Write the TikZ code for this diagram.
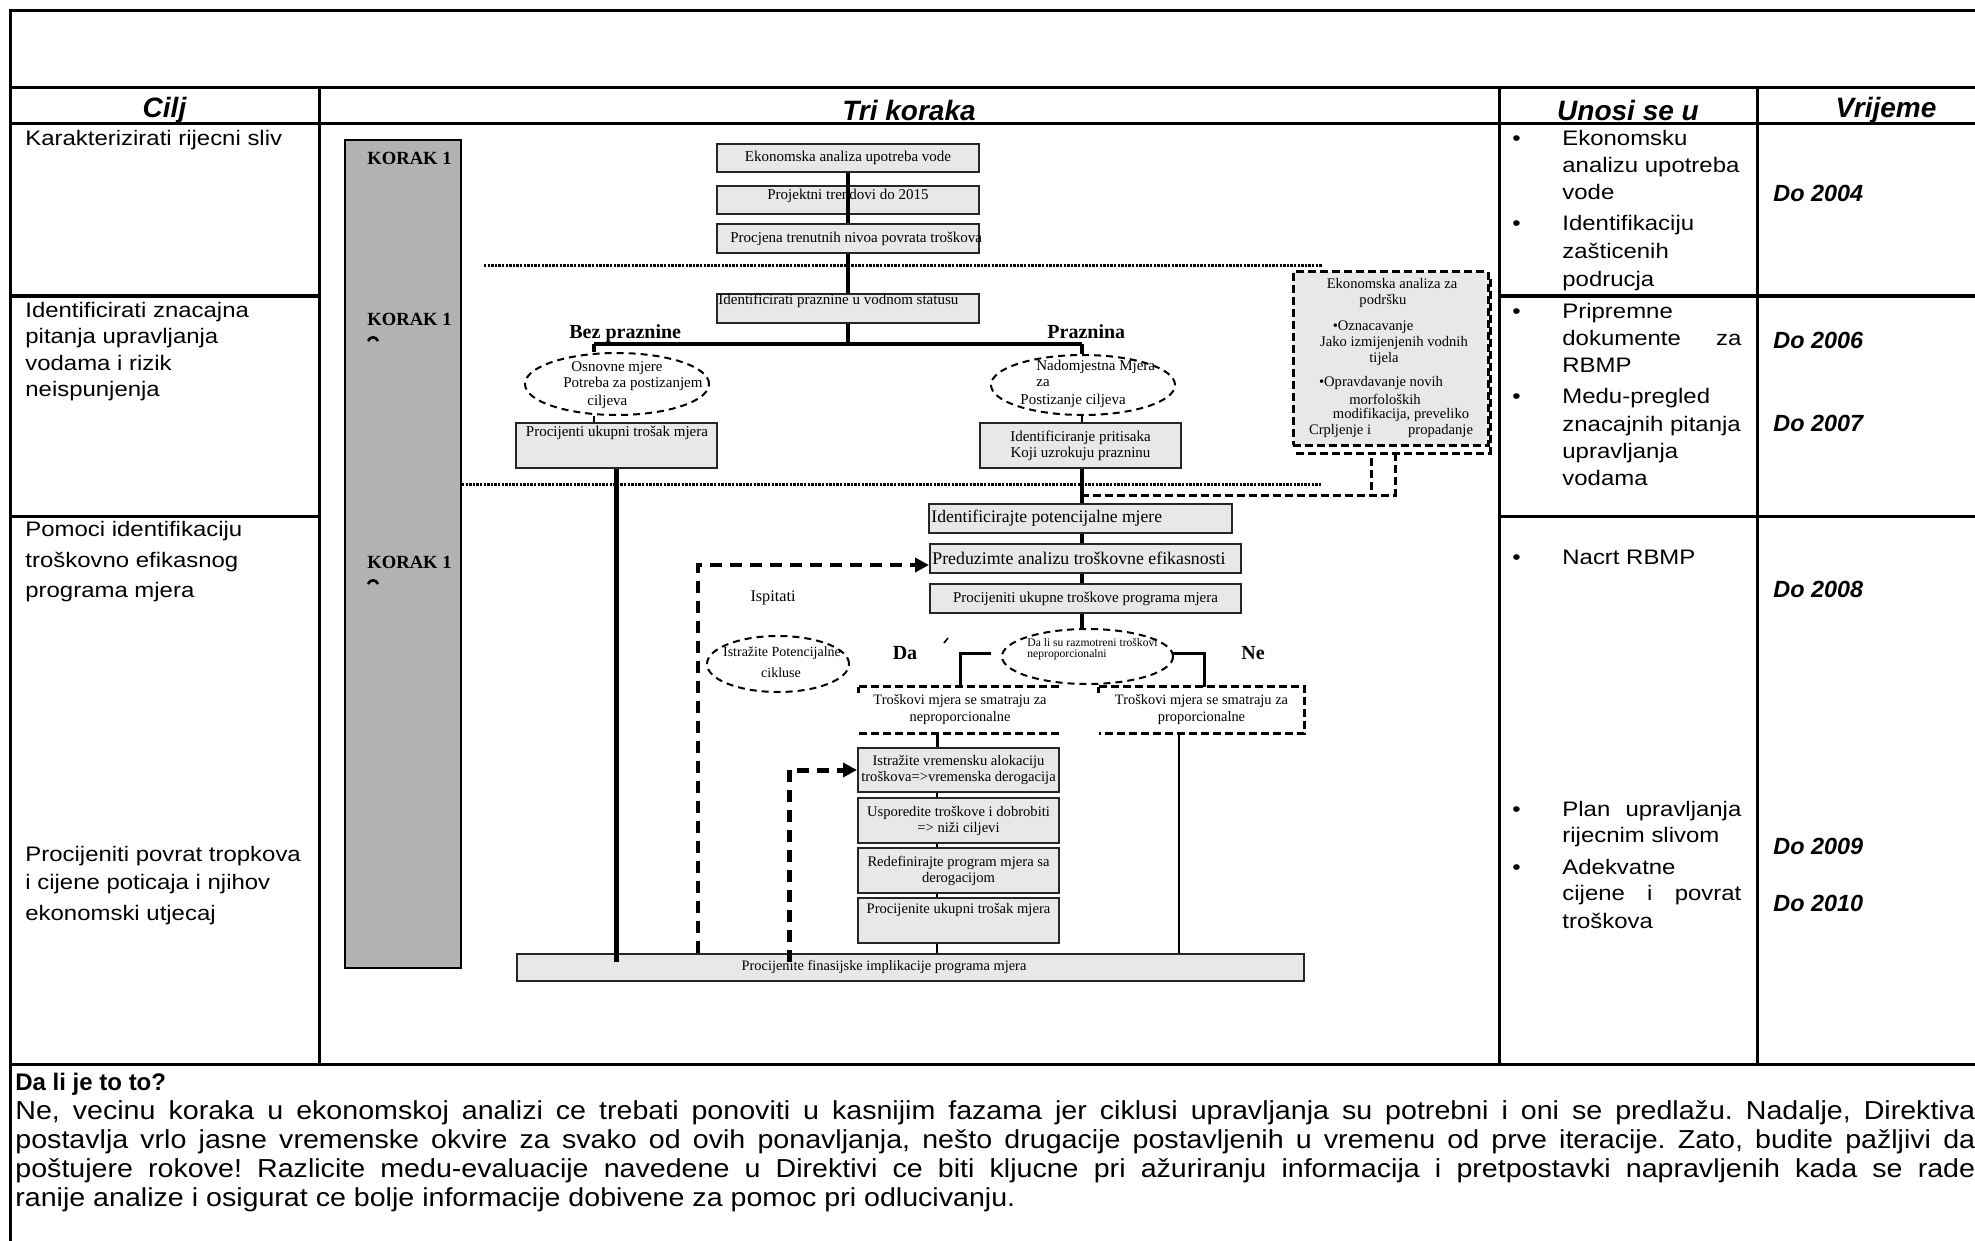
\documentclass[tikz,border=0pt]{standalone}
\usepackage{fontspec}
\setmainfont{Liberation Serif}
\newfontfamily\arialt[FakeStretch=1.14]{Liberation Sans}
\newfontfamily\arialh{Liberation Sans}
\newfontfamily\arialp[FakeStretch=1.1]{Liberation Sans}
\usetikzlibrary{shapes.geometric,arrows.meta}
\definecolor{boxfill}{gray}{0.91}
\definecolor{barfill}{gray}{0.70}
\frenchspacing
\tikzset{
 rule/.style={line width=1.5pt},
 tb/.style={anchor=west, inner sep=0pt, font=\fontsize{10.5}{12}\arialt, text height=7.6pt, text depth=2.2pt},
 tbh/.style={inner sep=0pt, font=\fontsize{14}{16}\arialh\bfseries\itshape},
 tbd/.style={anchor=west, inner sep=0pt, font=\fontsize{11.7}{13}\arialh\bfseries\itshape},
 para/.style={anchor=west, inner sep=0pt, font=\fontsize{13}{15}\arialp\frenchspacing, text height=9.4pt, text depth=2.7pt},
 bx/.style={draw=black!85, line width=1pt, fill=boxfill, inner sep=0pt, font=\fontsize{7.5}{8}\selectfont, align=center},
 st/.style={inner sep=0pt, font=\fontsize{7.5}{8}\selectfont},
 korak/.style={anchor=west, inner sep=0pt, font=\fontsize{9.3}{10}\selectfont\bfseries},
 lbl/.style={inner sep=0pt, font=\fontsize{10}{11}\selectfont\bfseries},
 oval/.style={ellipse, draw, line width=1pt, dash pattern=on 3.5pt off 2.5pt, inner sep=0pt},
 conn/.style={line width=2pt},
 thinconn/.style={line width=1pt},
 dotl/.style={line width=1.5pt, dash pattern=on 1.2pt off 0.6pt},
 dshbox/.style={line width=1.5pt, dash pattern=on 4pt off 2pt},
 fback/.style={line width=2pt, dash pattern=on 6pt off 4pt, -{Triangle[length=7pt,width=7pt]}},
}
\begin{document}
\begin{tikzpicture}[x=0.5pt,y=-0.5pt]
\path[use as bounding box] (0,0) rectangle (1975,1241);
\clip (0,0) rectangle (1975,1241);
\fill[white] (0,0) rectangle (1975,1241);

% ---------- table ----------
\draw[rule] (10,11) rectangle (2014,1300);
\draw[rule] (10,88) -- (2014,88);
\draw[rule] (10,124) -- (2014,124);
\draw[rule] (319,88) -- (319,1064);
\draw[rule] (1499,88) -- (1499,1064);
\draw[rule] (1757,88) -- (1757,1064);
\draw[rule] (10,296) -- (319,296);
\draw[rule] (10,516) -- (319,516);
\draw[rule] (1499,296) -- (2014,296);
\draw[rule] (1499,516) -- (2014,516);
\draw[rule] (10,1064) -- (2014,1064);

\node[tbh] (hcilj) at (164.5,110) {Cilj};
\node[tbh] (htri) at (909,110) {Tri koraka};
\node[tbh] (hunos) at (1628,110) {Unosi se u};
\node[tbh] (hvrij) at (1886,110) {Vrijeme};

\node[tb] (c11) at (25,140) {Karakterizirati rijecni sliv};
\node[tb] (c21) at (25,312) {Identificirati znacajna};
\node[tb] (c22) at (25,338) {pitanja upravljanja};
\node[tb] (c23) at (25,365) {vodama i rizik};
\node[tb] (c24) at (25,391) {neispunjenja};
\node[tb] (c31) at (25,531) {Pomoci identifikaciju};
\node[tb] (c32) at (25,562) {troškovno efikasnog};
\node[tb] (c33) at (25,592) {programa mjera};
\node[tb] (c41) at (25,856) {Procijeniti povrat tropkova};
\node[tb] (c42) at (25,884) {i cijene poticaja i njihov};
\node[tb] (c43) at (25,915) {ekonomski utjecaj};

% Unosi se u
\foreach \yy/\nm in {140/ua,225/ub,313/uc,398/ud,559/ue,811/uf,869/ug}
  \node[tb] (bul\nm) at (1512,\yy) {•};
\node[tb] (u1) at (1562,140) {Ekonomsku};
\node[tb] (u2) at (1562,167) {analizu upotreba};
\node[tb] (u3) at (1562,194) {vode};
\node[tb] (u4) at (1562,225) {Identifikaciju};
\node[tb] (u5) at (1562,253) {zašticenih};
\node[tb] (u6) at (1562,281) {podrucja};
\node[tb] (u7) at (1562,313) {Pripremne};
\node[tb] (u8) at (1562,340) {\makebox[89.5pt][s]{dokumente\hfill za}};
\node[tb] (u9) at (1562,367) {RBMP};
\node[tb] (u10) at (1562,398) {Medu-pregled};
\node[tb] (u11) at (1562,426) {znacajnih pitanja};
\node[tb] (u12) at (1562,453) {upravljanja};
\node[tb] (u13) at (1562,480) {vodama};
\node[tb] (u14) at (1562,559) {Nacrt RBMP};
\node[tb] (u15) at (1562,811) {\makebox[89.5pt][s]{Plan\hfill upravljanja}};
\node[tb] (u16) at (1562,837) {rijecnim slivom};
\node[tb] (u17) at (1562,869) {Adekvatne};
\node[tb] (u18) at (1562,895) {\makebox[89.5pt][s]{cijene\hfill i\hfill povrat}};
\node[tb] (u19) at (1562,923) {troškova};

% Vrijeme
\node[tbd] (v1) at (1773,193) {Do 2004};
\node[tbd] (v2) at (1773,340) {Do 2006};
\node[tbd] (v3) at (1773,423) {Do 2007};
\node[tbd] (v4) at (1773,589) {Do 2008};
\node[tbd] (v5) at (1773,846) {Do 2009};
\node[tbd] (v6) at (1773,903) {Do 2010};

% bottom paragraph
\node[para, font=\fontsize{12}{14}\arialh\bfseries] (q) at (15,1084) {Da li je to to?};
\node[para] (p1l) at (15,1113) {\makebox[980pt][s]{Ne, vecinu koraka u ekonomskoj analizi ce trebati ponoviti u kasnijim fazama jer ciklusi upravljanja su potrebni i oni se predlažu. Nadalje, Direktiva}};
\node[para] (p2l) at (15,1142) {\makebox[980pt][s]{postavlja vrlo jasne vremenske okvire za svako od ovih ponavljanja, nešto drugacije postavljenih u vremenu od prve iteracije. Zato, budite pažljivi da}};
\node[para] (p3l) at (15,1171) {\makebox[980pt][s]{poštujere rokove! Razlicite medu-evaluacije navedene u Direktivi ce biti kljucne pri ažuriranju informacija i pretpostavki napravljenih kada se rade}};
\node[para] (p4l) at (15,1200) {ranije analize i osigurat ce bolje informacije dobivene za pomoc pri odlucivanju.};

% ---------- flow ----------
\node[draw=black, line width=0.8pt, fill=barfill, minimum width=58pt, minimum height=414pt, inner sep=0pt] (bar) at (403,554) {};
\node[korak] (k1) at (367,158) {KORAK 1};
\node[korak] (k2) at (367,319) {KORAK 1};
\node[korak] (k3) at (367,562) {KORAK 1};
\draw[line width=1.3pt] (368,341) .. controls (370,336) and (376,336) .. (378,341);
\draw[line width=1.3pt] (368,584) .. controls (370,579) and (376,579) .. (378,584);

\draw[dotl] (484,266) -- (1322,266);
\draw[dotl] (462,484) -- (1322,484);

\node[bx, minimum width=131pt, minimum height=14pt] (b1) at (848,158) {Ekonomska analiza upotreba vode};
\node[bx, minimum width=131pt, minimum height=14pt] (b2) at (848,200) {};
\node[st] (b2t) at (848,196) {Projektni trendovi do 2015};
\draw[conn] (b1.south) -- (b2.south);
\draw[conn] (b2.south) -- ++(0,10) coordinate (b3top);
\node[bx, minimum width=131pt, minimum height=14.5pt] (b3) at (848,238.5) {};
\node[st, anchor=west] (b3t) at (730,239) {Procjena trenutnih nivoa povrata troškova};
\node[bx, minimum width=131pt, minimum height=14.5pt] (b4) at (848,308.5) {};
\node[st, anchor=west] (b4t) at (718,301) {Identificirati praznine u vodnom statusu};
\draw[conn] (b3.south) -- (b4.north);

\coordinate (brL) at (594,344);
\coordinate (brR) at (1082,344);
\draw[conn] (b4.south) -- (b4.south |- brL);
\draw[conn] (brL) -- (brR);
\node[lbl, anchor=base west] (bez) at (569,338) {Bez praznine};
\node[lbl, anchor=base west] (praz) at (1047,338) {Praznina};

\node[oval, minimum width=92pt, minimum height=31pt] (e1) at (617,384) {};
\draw[conn] (brL) -- (brL |- e1.north);
\node[st, anchor=west] (e1a) at (571,368) {Osnovne mjere};
\node[st, anchor=west] (e1b) at (563,384) {Potreba za postizanjem};
\node[st, anchor=west] (e1c) at (587,402) {ciljeva};
\node[bx, minimum width=100.5pt, minimum height=22.5pt] (bl) at (616.5,445.5) {};
\node[st] (blt) at (617,433) {Procijenti ukupni trošak mjera};
\draw[thinconn] (e1.south -| brL) -- (bl.north -| brL);

\node[oval, minimum width=92pt, minimum height=30pt] (e2) at (1083,385) {};
\draw[conn] (brR) -- (brR |- e2.north);
\node[st, anchor=west] (e2a) at (1036,367) {Nadomjestna Mjera};
\node[st, anchor=west] (e2b) at (1036,383) {za};
\node[st, anchor=west] (e2c) at (1020,401) {Postizanje ciljeva};
\node[bx, minimum width=100.5pt, minimum height=22.5pt] (br) at (1080.5,445.5) {Identificiranje pritisaka\\Koji uzrokuju prazninu};
\draw[thinconn] (e2.south -| brR) -- (br.north -| brR);

% support box
\node[draw, dshbox, fill=boxfill, minimum width=97.5pt, minimum height=86.5pt, inner sep=0pt] (sup) at (1390.5,358.5) {};
\draw[dshbox] (1296,453) -- (1490,453) -- (1490,278);
\node[st, font=\fontsize{7.3}{8}\selectfont] (s1) at (1392,284) {Ekonomska analiza za};
\node[st, font=\fontsize{7.3}{8}\selectfont] (s2) at (1383,301) {podršku};
\node[st, font=\fontsize{7.3}{8}\selectfont] (s3) at (1373,327) {•Oznacavanje};
\node[st, font=\fontsize{7.3}{8}\selectfont] (s4) at (1394,343) {Jako izmijenjenih vodnih};
\node[st, font=\fontsize{7.3}{8}\selectfont] (s5) at (1384,359) {tijela};
\node[st, font=\fontsize{7.3}{8}\selectfont] (s6) at (1381,383) {•Opravdavanje novih};
\node[st, font=\fontsize{7.3}{8}\selectfont] (s7) at (1385,399) {morfoloških};
\node[st, font=\fontsize{7.3}{8}\selectfont] (s8) at (1401,415) {modifikacija, preveliko};
\node[st, font=\fontsize{7.3}{8}\selectfont] (s9) at (1391,431) {\makebox[82pt][s]{Crpljenje i\hfill propadanje}};
\coordinate (sA) at (1395,495);
\coordinate (sB) at (1371,495);
\coordinate (sC) at (1082,495);
\draw[dshbox] (1395,453) -- (sA) -- (sC);
\draw[dshbox] (1371,458) -- (sB);

\node[bx, minimum width=151.5pt, minimum height=14.5pt] (p1) at (1080.5,518.5) {};
\node[anchor=west, inner sep=0pt, font=\fontsize{8.8}{10}\selectfont] (p1t) at (931,518) {Identificirajte potencijalne mjere};
\draw[conn] (br.south -| brR) -- (p1.north -| brR);
\node[bx, minimum width=155.5pt, minimum height=14.5pt] (p2) at (1085.5,558.5) {};
\node[anchor=west, inner sep=0pt, font=\fontsize{8.9}{10}\selectfont] (p2t) at (932,558) {Preduzimte analizu troškovne efikasnosti};
\node[bx, minimum width=155.5pt, minimum height=14.5pt] (p3) at (1085.5,598.5) {Procijeniti ukupne troškove programa mjera};
\draw[conn] (p1.south -| brR) -- (p2.north -| brR);
\draw[conn] (p2.south -| brR) -- (p3.north -| brR);

\node[oval, minimum width=85.5pt, minimum height=27.5pt] (e3) at (1087.5,656.5) {};
\draw[conn] (p3.south -| brR) -- (e3.north -| brR);
\node[st, anchor=west, font=\fontsize{5.8}{6.5}\selectfont] (e3a) at (1027,643) {Da li su razmotreni troškovi};
\node[st, anchor=west, font=\fontsize{5.8}{6.5}\selectfont] (e3b) at (1027,655) {neproporcionalni};
\node[lbl] (da) at (905,653) {Da};
\node[lbl] (ne) at (1253,653) {Ne};
\draw[line width=0.8pt] (944,643) -- (948,638);

\node[inner sep=0pt, minimum width=101pt, minimum height=23pt, align=center, font=\fontsize{7.2}{8.5}\selectfont] (d1) at (960,710) {Troškovi mjera se smatraju za\\neproporcionalne};
\draw[dshbox] (d1.north west) -- (d1.north east);
\draw[dshbox] (d1.south west) -- (d1.south east);
\draw[dshbox] (d1.north west) -- ++(0,6);
\node[inner sep=0pt, minimum width=102.5pt, minimum height=23pt, align=center, font=\fontsize{7.2}{8.5}\selectfont] (d2) at (1201.5,710) {Troškovi mjera se smatraju za\\proporcionalne};
\draw[dshbox] (d2.north west) -- (d2.north east) -- (d2.south east) -- (d2.south west);
\draw[dshbox] (d2.north west) -- ++(0,6);

\coordinate (daA) at (991,653);
\coordinate (daB) at (960,653);
\coordinate (neA) at (1173,653);
\coordinate (neB) at (1204,653);
\draw[line width=1.5pt] (daA) -- (daB) -- (daB |- d1.north);
\draw[line width=1.5pt] (neA) -- (neB) -- (neB |- d2.north);

\node[bx, minimum width=100.5pt, minimum height=22pt, font=\fontsize{7.3}{8}\selectfont] (c1) at (958.5,770) {Istražite vremensku alokaciju\\troškova=>vremenska derogacija};
\node[bx, minimum width=100.5pt, minimum height=22.5pt, font=\fontsize{7.3}{8}\selectfont] (c2) at (958.5,820.5) {Usporedite troškove i dobrobiti\\=> niži ciljevi};
\node[bx, minimum width=100.5pt, minimum height=22.5pt, font=\fontsize{7.3}{8}\selectfont] (c3) at (958.5,870.5) {Redefinirajte program mjera sa\\derogacijom};
\node[bx, minimum width=100.5pt, minimum height=22.5pt] (c4) at (958.5,920.5) {};
\node[st, font=\fontsize{7.3}{8}\selectfont] (c4t) at (958.5,910) {Procijenite ukupni trošak mjera};
\coordinate (cx) at (937,748);
\draw[line width=1.5pt] (d1.south -| cx) -- (c1.north -| cx);

\node[bx, minimum width=393.5pt, minimum height=13.5pt] (fb) at (910.5,967.5) {};
\node[st, font=\fontsize{7.2}{8}\selectfont] (fbt) at (884,967) {Procijenite finasijske implikacije programa mjera};
\draw[thinconn] (c1.south -| cx) -- (c2.north -| cx);
\draw[thinconn] (c2.south -| cx) -- (c3.north -| cx);
\draw[thinconn] (c3.south -| cx) -- (c4.north -| cx);
\draw[thinconn] (c4.south -| cx) -- (fb.north -| cx);
\coordinate (d2x) at (1179,954);
\draw[thinconn] (d2.south -| d2x) -- (fb.north -| d2x);

\coordinate (fbL) at (616.5,962);
\draw[line width=2.5pt] (bl.south) -- (fbL);

\node[inner sep=0pt, font=\fontsize{8.1}{9}\selectfont] (isp) at (773,598) {Ispitati};
\node[oval, minimum width=71pt, minimum height=28pt] (e4) at (778,664) {};
\node[st, font=\fontsize{7}{8}\selectfont] (e4a) at (782,653) {Istražite Potencijalne};
\node[st, font=\fontsize{7}{8}\selectfont] (e4b) at (781,673) {cikluse};

\coordinate (f1) at (698,565);
\coordinate (f1b) at (698,953);
\draw[fback] (f1b) -- (f1) -- (f1 -| p2.west);
\coordinate (f2) at (789,770);
\coordinate (f2b) at (789,962);
\draw[fback, line width=2.5pt] (f2b) -- (f2) -- (c1.west);
\end{tikzpicture}
\end{document}
